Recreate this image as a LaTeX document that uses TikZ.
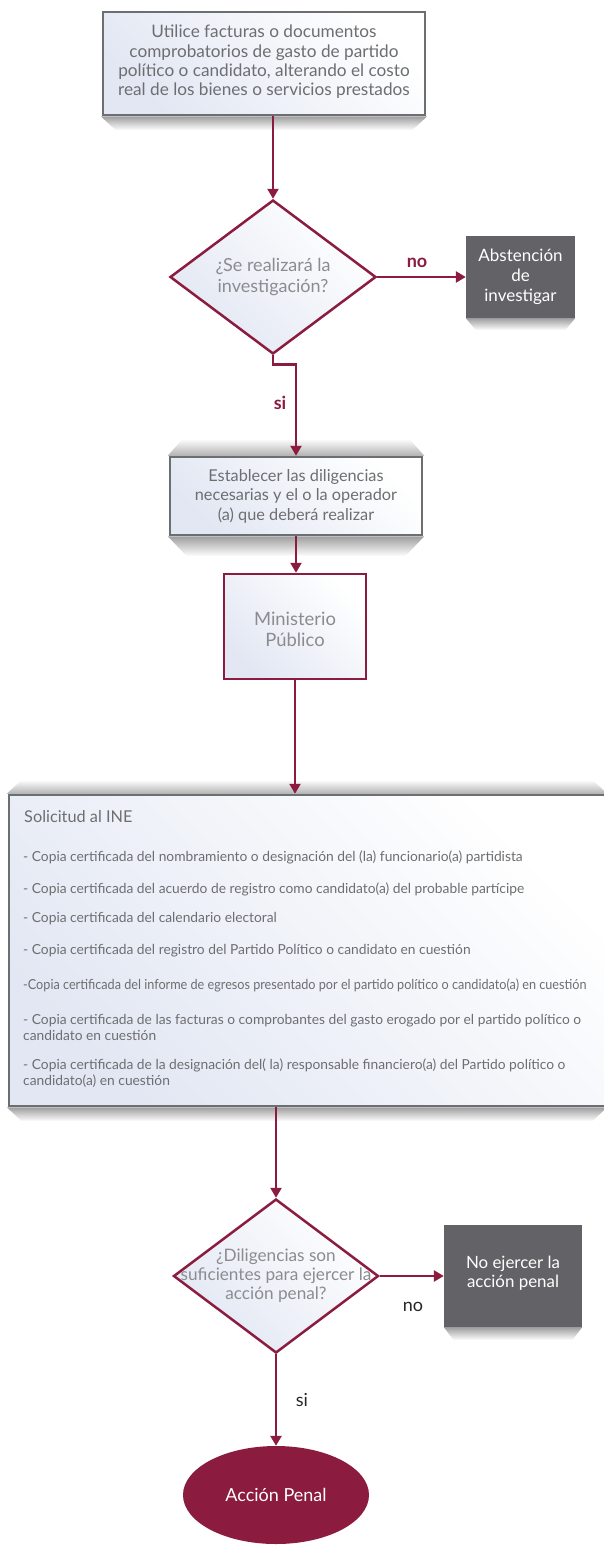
\documentclass[tikz,border=0pt]{standalone}
\usepackage{fontspec}
\setmainfont{Lato}
\usetikzlibrary{shapes.geometric,arrows.meta,calc,backgrounds}
\definecolor{maroon}{HTML}{8B1B3F}
\definecolor{boxgray}{HTML}{6D6E71}
\definecolor{darkbox}{HTML}{636266}
\definecolor{txtgray}{HTML}{6D6E71}
\definecolor{lighttxt}{HTML}{8C8C90}
\definecolor{lightblue}{HTML}{E2E7F3}
\tikzset{
  grad/.style={left color=lightblue, right color=white, shading angle=135},
  graybox/.style={rectangle, draw=boxgray, line width=2.5pt, grad, align=center, inner sep=2pt, text=txtgray},
  darkbox/.style={rectangle, fill=darkbox, align=center, text=white, inner sep=2pt},
  mbox/.style={rectangle, draw=maroon, line width=2.5pt, grad, align=center, text=lighttxt},
  decision/.style={diamond, draw=maroon, line width=2.5pt, grad, inner sep=0pt},
  arr/.style={draw=maroon, line width=2.5pt, -{Triangle[length=10pt,width=11pt]}},
  item/.style={anchor=west, text=txtgray, font=\fontsize{13.8}{16}\selectfont, align=left, inner sep=0pt},
  shadowshade/.style={top color=black!38, bottom color=white},
  shadowshadeup/.style={bottom color=black!30, top color=white},
}
\begin{document}
\begin{tikzpicture}[x=1pt,y=-1pt]
\useasboundingbox (0,0) rectangle (603,1545);

% nodes
\node[graybox, minimum width=322pt, minimum height=103pt] (t1) at (264,63.5) {};
\node[text=txtgray, align=center, font=\fontsize{17.2}{19.3}\selectfont] (t1t) at (264,62)
  {Utilice facturas o documentos\\comprobatorios de gasto de partido\\político o candidato, alterando el costo\\real de los bienes o servicios prestados};

\node[decision, minimum width=206pt, minimum height=154pt] (d1) at (273,277) {};
\node[text=lighttxt, align=center, font=\fontsize{18}{21}\selectfont] (d1t) at (d1.center) {¿Se realizará la\\investigación?};

\node[darkbox, minimum width=109pt, minimum height=82pt] (abst) at (520.5,277) {};
\node[text=white, align=center, font=\fontsize{17}{20}\selectfont] (abstt) at (abst.center) {Abstención\\de\\investigar};

\node[graybox, minimum width=252pt, minimum height=78pt] (est) at (296,496) {};
\node[text=txtgray, align=center, font=\fontsize{16.3}{19.5}\selectfont] (estt) at (est.center)
  {Establecer las diligencias\\necesarias y el o la operador\\(a) que deberá realizar};

\node[mbox, minimum width=142pt, minimum height=105pt] (mp) at (295,626.5) {};
\node[text=lighttxt, align=center, font=\fontsize{18.4}{21}\selectfont] (mpt) at (295,629.5) {Ministerio\\Público};

\node[rectangle, draw=boxgray, line width=2.5pt, grad, minimum width=596pt, minimum height=311pt] (sol) at (307,950.5) {};

\node[decision, minimum width=205pt, minimum height=154pt] (d2) at (276,1276) {};
\node[text=lighttxt, align=center, font=\fontsize{17.2}{19}\selectfont] (d2t) at (276,1276) {¿Diligencias son\\suficientes para ejercer la\\acción penal?};

\node[darkbox, minimum width=138pt, minimum height=102pt] (noej) at (513,1276) {};
\node[text=white, align=center, font=\fontsize{16.9}{19}\selectfont] (noejt) at (513,1273.5) {No ejercer la\\acción penal};

\node[ellipse, fill=maroon, minimum width=186pt, minimum height=98pt, text=white, font=\fontsize{18}{20}\selectfont] (acc) at (276,1495) {Acción Penal};

% Solicitud texts
\node[item, font=\fontsize{16.3}{18}\selectfont] (s0) at (24,817) {Solicitud al INE};
\node[item] (s1) at (23,857) {- Copia certificada del nombramiento o designación del (la) funcionario(a) partidista};
\node[item] (s2) at (23,889) {- Copia certificada del acuerdo de registro como candidato(a) del probable partícipe};
\node[item] (s3) at (23,919) {- Copia certificada del calendario electoral};
\node[item] (s4) at (23,951) {- Copia certificada del registro del Partido Político o candidato en cuestión};
\node[item, xscale=0.917, transform shape] (s5) at (23,985) {-Copia certificada del informe de egresos presentado por el partido político o candidato(a) en cuestión};
\node[item] (s6) at (23,1027) {- Copia certificada de las facturas o comprobantes del gasto erogado por el partido político o\\candidato en cuestión};
\node[item] (s7) at (23,1073) {- Copia certificada de la designación del( la) responsable financiero(a) del Partido político o\\candidato(a) en cuestión};

% connectors
\draw[arr] (t1.south -| d1.north) -- (d1.north);
\draw[arr] (d1.east) -- (abst.west);
\draw[arr] (d1.south) -- ++(0,9) -| (est.north);
\draw[arr] (est.south) -- (est.south |- mp.north);
\draw[arr] (mp.south) -- (mp.south |- sol.north);
\draw[arr] (sol.south -| d2.north) -- (d2.north);
\draw[arr] (d2.east) -- (noej.west);
\draw[arr] (d2.south) -- (acc.north);

% labels
\node[text=maroon, font=\bfseries\fontsize{18}{20}\selectfont] (lno1) at (417,263) {no};
\node[text=maroon, font=\bfseries\fontsize{18}{20}\selectfont] (lsi1) at (280,403) {si};
\node[text=black!85, font=\fontsize{18}{20}\selectfont] (lno2) at (413,1307) {no};
\node[text=black!85, font=\fontsize{18}{20}\selectfont] (lsi2) at (302,1400) {si};

% shadows
\begin{scope}[on background layer]
\shade[shadowshade] ($(t1.south west)+(-1,0)$) -- ($(t1.south east)+(1,0)$) -- ($(t1.south east)+(-14,14)$) -- ($(t1.south west)+(14,14)$) -- cycle;
\shade[shadowshade] (abst.south west) -- (abst.south east) -- ($(abst.south east)+(-10,12)$) -- ($(abst.south west)+(10,12)$) -- cycle;
\shade[shadowshade] ($(est.south west)+(-1,0)$) -- ($(est.south east)+(1,0)$) -- ($(est.south east)+(-18,20)$) -- ($(est.south west)+(18,20)$) -- cycle;
\shade[shadowshadeup] ($(est.north west)+(-1,0)$) -- ($(est.north east)+(1,0)$) -- ($(est.north east)+(-14,-17)$) -- ($(est.north west)+(14,-17)$) -- cycle;
\shade[shadowshade] ($(sol.south west)+(-1,0)$) -- ($(sol.south east)+(1,0)$) -- ($(sol.south east)+(-14,14)$) -- ($(sol.south west)+(14,14)$) -- cycle;
\shade[shadowshadeup] ($(sol.north west)+(-1,0)$) -- ($(sol.north east)+(1,0)$) -- ($(sol.north east)+(-14,-14)$) -- ($(sol.north west)+(14,-14)$) -- cycle;
\shade[shadowshade] (noej.south west) -- (noej.south east) -- ($(noej.south east)+(-10,13)$) -- ($(noej.south west)+(10,13)$) -- cycle;
\end{scope}
\end{tikzpicture}
\end{document}
